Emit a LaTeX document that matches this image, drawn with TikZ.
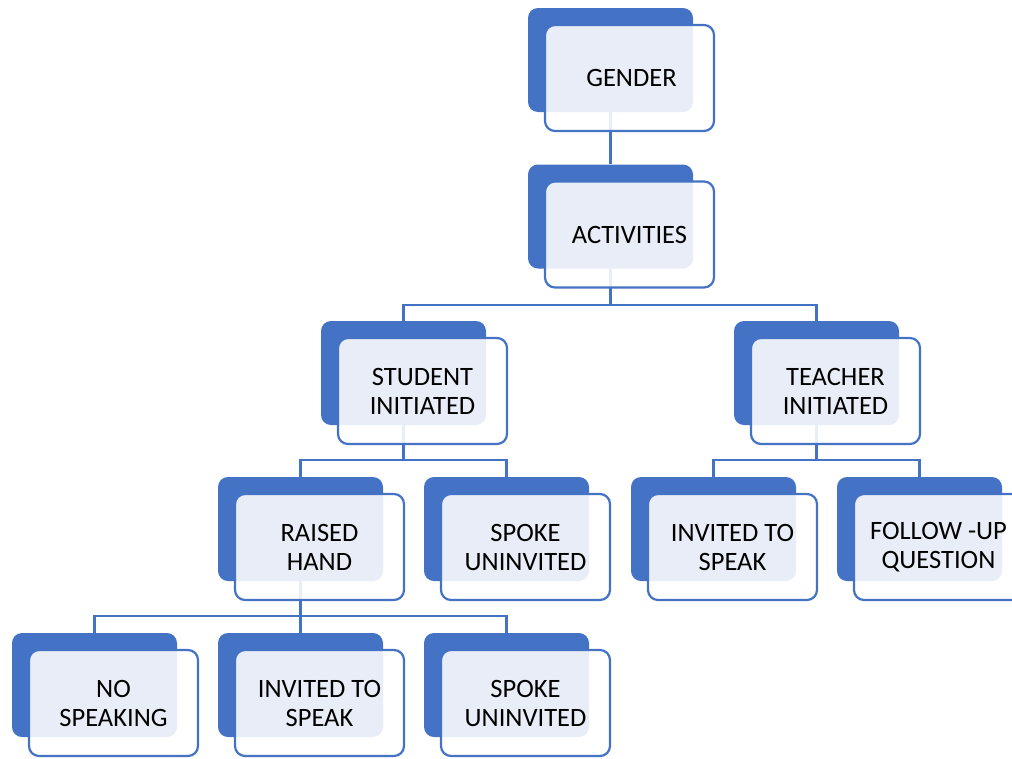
\documentclass[tikz,border=0pt]{standalone}
\usepackage{fontspec}
\setmainfont{Carlito}
\definecolor{accent}{HTML}{4472C4}
\pgfdeclarelayer{bg}
\pgfsetlayers{bg,main}
\tikzset{
  backbox/.style={draw=none, fill=accent, rounded corners=10pt,
    minimum width=165pt, minimum height=104pt, inner sep=0pt},
  frontbox/.style={draw=accent, line width=2.2pt, fill=white, fill opacity=0.88,
    text opacity=1, rounded corners=10pt, minimum width=169pt, minimum height=106pt,
    inner sep=0pt, align=center, font=\fontsize{26.5}{29}\selectfont},
  conn/.style={draw=accent, line width=2.4pt},
  onback/.style={at={([shift={(19,18)}]#1.center)}},
}
\begin{document}
\begin{tikzpicture}[x=1pt, y=-1pt]
\useasboundingbox (0,0) rectangle (1012,758);
\clip (0,0) rectangle (1012,758);
% back cards
\node[backbox] (genb) at (610.5,60) {};
\node[backbox] (actb) at (610.5,216.5) {};
\node[backbox] (stub) at (403.5,373) {};
\node[backbox] (teab) at (816.5,373) {};
\node[backbox] (raib) at (300.5,529) {};
\node[backbox] (spob) at (506.5,529) {};
\node[backbox] (invb) at (713.5,529) {};
\node[backbox] (folb) at (919.5,529) {};
\node[backbox] (nosb) at (94.5,685) {};
\node[backbox] (in2b) at (300.5,685) {};
\node[backbox] (sp2b) at (506.5,685) {};
% connectors, behind the cards
\begin{pgfonlayer}{bg}
\draw[conn] (genb.south) -- (actb.north);
\draw[conn] (actb.south) -- ++(0,36) -| (stub.north);
\draw[conn] (actb.south) ++(0,36) -| (teab.north);
\draw[conn] (stub.south) -- ++(0,35) -| (raib.north);
\draw[conn] (stub.south) ++(0,35) -| (spob.north);
\draw[conn] (teab.south) -- ++(0,35) -| (invb.north);
\draw[conn] (teab.south) ++(0,35) -| (folb.north);
\draw[conn] (raib.south) -- ++(0,35) -| (nosb.north);
\draw[conn] (raib.south) -- (in2b.north);
\draw[conn] (raib.south) ++(0,35) -| (sp2b.north);
\end{pgfonlayer}
% translucent front cards with labels
\node[frontbox, onback=genb] (gen) {\hspace*{4pt}GENDER};
\node[frontbox, onback=actb] (act) {ACTIVITIES};
\node[frontbox, onback=stub] (stu) {STUDENT\\INITIATED};
\node[frontbox, onback=teab] (tea) {TEACHER\\INITIATED};
\node[frontbox, onback=raib] (rai) {RAISED\\HAND};
\node[frontbox, onback=spob] (spo) {SPOKE\\UNINVITED};
\node[frontbox, onback=invb] (inv) {INVITED TO\\SPEAK};
\node[frontbox, onback=folb] (fol) {FOLLOW -UP\\QUESTION};
\node[frontbox, onback=nosb] (nos) {NO\\SPEAKING};
\node[frontbox, onback=in2b] (in2) {INVITED TO\\SPEAK};
\node[frontbox, onback=sp2b] (sp2) {SPOKE\\UNINVITED};
\end{tikzpicture}
\end{document}
